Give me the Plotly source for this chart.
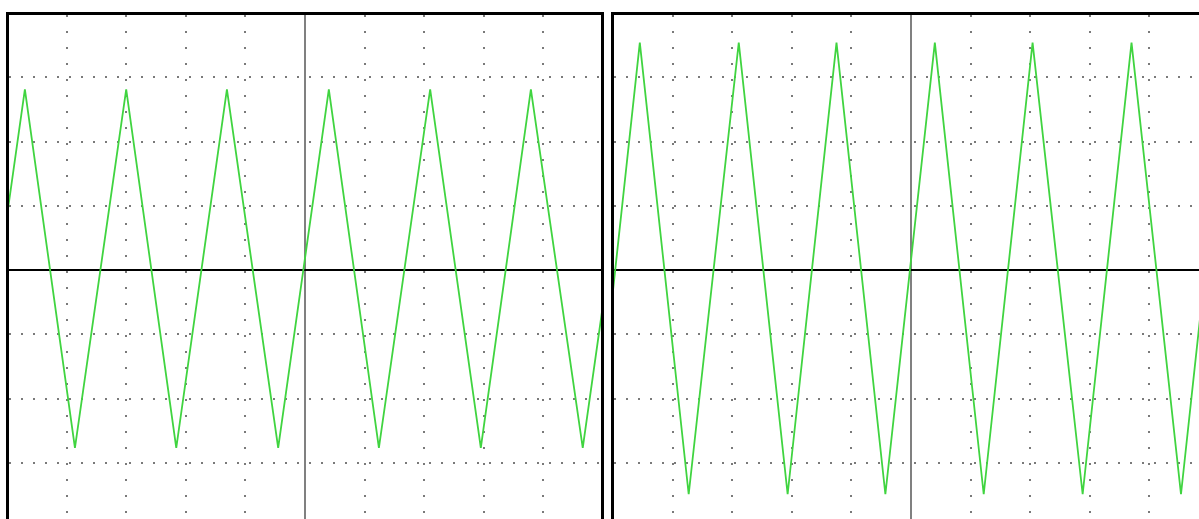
import plotly.graph_objects as go

# ---- data (screen divisions) ----
left_t = [-5.55, -4.70, -3.86, -3.00, -2.16, -1.31, -0.45, 0.40, 1.24, 2.10, 2.95, 3.79, 4.66, 5.51]
left_v = [-2.77, 2.81, -2.77, 2.81, -2.77, 2.81, -2.77, 2.81, -2.77, 2.81, -2.77, 2.81, -2.77, 2.81]

right_t = [-5.37, -4.55, -3.73, -2.89, -2.07, -1.25, -0.43, 0.40, 1.22, 2.04, 2.88, 3.70, 4.53, 5.35]
right_v = [-3.49, 3.54, -3.49, 3.54, -3.49, 3.54, -3.49, 3.54, -3.49, 3.54, -3.49, 3.54, -3.49, 3.54]

W, H = 1199, 519
GREEN = "#40d440"
DOT = "#7a7a7a"

fig = go.Figure()
fig.add_trace(go.Scatter(x=left_t, y=left_v, mode="lines", xaxis="x", yaxis="y",
                         line=dict(color=GREEN, width=1.8), hoverinfo="skip"))
fig.add_trace(go.Scatter(x=right_t, y=right_v, mode="lines", xaxis="x2", yaxis="y2",
                         line=dict(color=GREEN, width=1.8), hoverinfo="skip"))

div_x = 59.6
div_y = 64.25
top_px = 15          # plot-area top (border line sits just above)
center_y = 270
ydom_top = (H - top_px) / H
y_hi = (center_y - top_px) / div_y
y_lo = (center_y - H) / div_y

common_x = dict(dtick=1, tick0=0, showticklabels=False, ticks="",
                showgrid=True, gridcolor=DOT, gridwidth=1.5, griddash="1.5px,14.5px",
                zeroline=True, zerolinecolor="#808080", zerolinewidth=2.2,
                showline=True, linecolor="black", linewidth=3, side="top", mirror=False,
                fixedrange=True)
common_y = dict(dtick=1, tick0=0, showticklabels=False, ticks="",
                showgrid=True, gridcolor=DOT, gridwidth=1.5, griddash="1.5px,10.5px",
                zeroline=True, zerolinecolor="black", zerolinewidth=1.5,
                showline=True, linecolor="black", linewidth=3,
                range=[y_lo, y_hi], domain=[0, ydom_top], fixedrange=True)

# left panel: plot area 9..601 px, centre 305 px
l0, l1, lc = 9, 601, 305
# right panel: plot area 614..1199 px, centre 911 px
r0, r1, rc = 614, W, 911

fig.update_layout(
    width=W, height=H, autosize=False,
    margin=dict(l=0, r=0, t=0, b=0, pad=0),
    paper_bgcolor="white", plot_bgcolor="white",
    showlegend=False,
    xaxis=dict(common_x, domain=[l0 / W, l1 / W],
               range=[(l0 - lc) / div_x, (l1 - lc) / div_x], anchor="y"),
    yaxis=dict(common_y, anchor="x", mirror=True),
    xaxis2=dict(common_x, domain=[r0 / W, 1.0],
                range=[(r0 - rc) / div_x, (r1 - rc) / div_x], anchor="y2"),
    yaxis2=dict(common_y, anchor="x2", mirror=False),
)

fig.write_html("out.html", config={"displayModeBar": False})
